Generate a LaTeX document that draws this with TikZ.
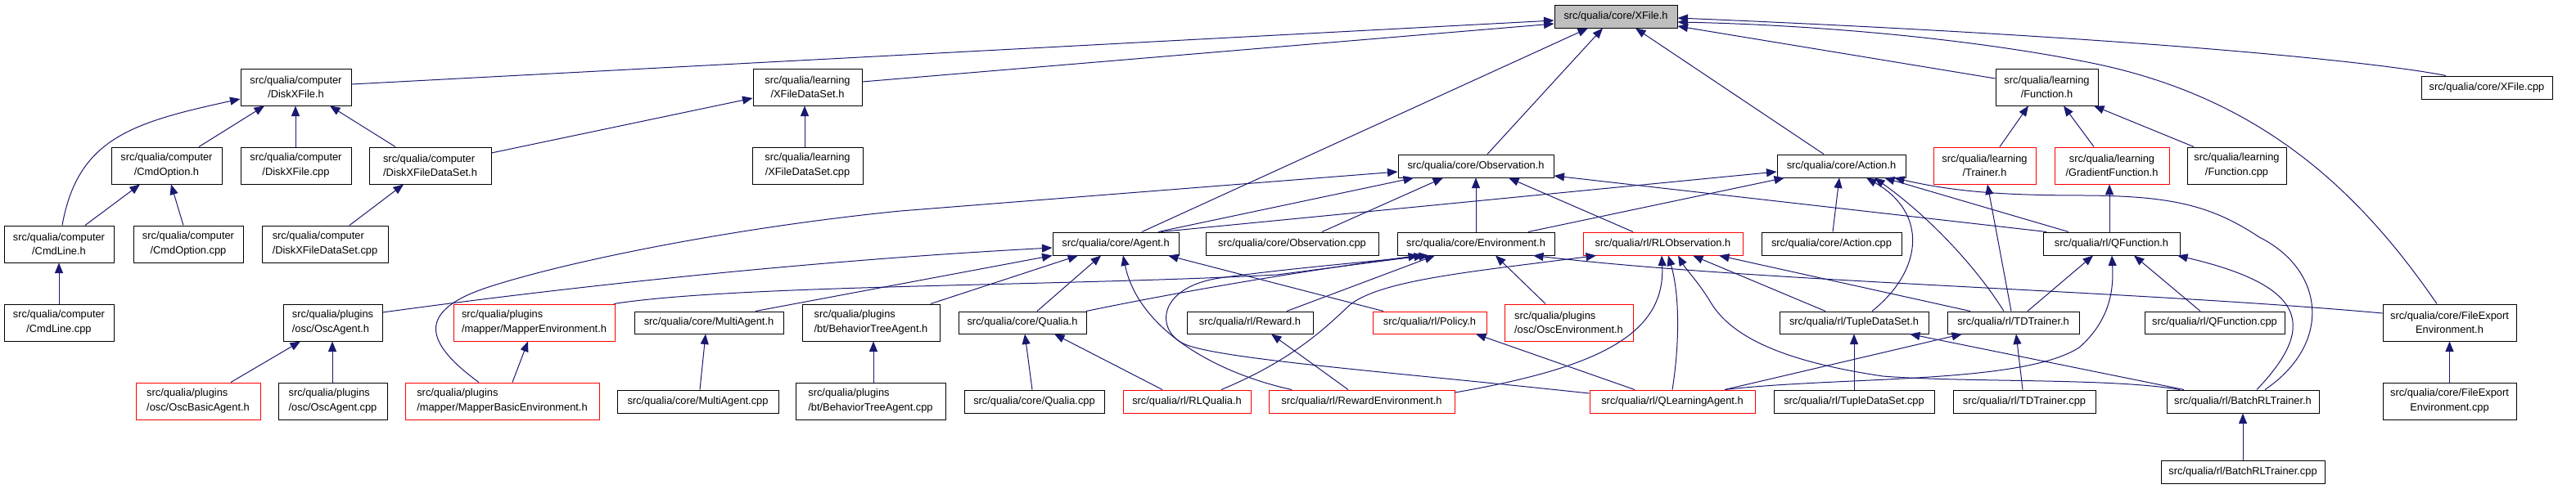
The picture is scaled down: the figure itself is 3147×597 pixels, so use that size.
\documentclass[tikz,border=0pt]{standalone}
\usepackage{fontspec}
\setmainfont{Liberation Sans}
\usetikzlibrary{arrows.meta}
\definecolor{navy}{HTML}{191970}
\definecolor{boxred}{HTML}{FF0000}
\definecolor{boxgray}{HTML}{BFBFBF}
\tikzset{
 box/.style={draw=black, fill=white, line width=1pt, inner sep=0pt, align=center, font=\fontsize{12.84}{17.7}\selectfont},
 lbox/.style={align=left},
 rbox/.style={draw=boxred},
 gbox/.style={fill=boxgray},
 dep/.style={draw=navy, line width=1pt, -{Triangle[length=12.5pt,width=10pt]}},
}
\newcommand\bx[7][]{\node[box,#1,minimum width={(#5-#3)*1pt},minimum height={(#6-#4)*1pt}] (#2) at ({(#3+#5)/2},{(#4+#6)/2}) {#7};}
\begin{document}
\begin{tikzpicture}[x=1pt,y=-1pt]
\useasboundingbox (0,0) rectangle (3147,597);
% row 0
\bx[gbox]{xfile}{1899}{6}{2049}{34}{src/qualia/core/XFile.h}
% row 1
\bx{diskxfileh}{294}{84}{429}{129}{src/qualia/computer\\/DiskXFile.h}
\bx{xfdsh}{920}{84}{1053}{129}{src/qualia/learning\\/XFileDataSet.h}
\bx{functionh}{2438}{84}{2563}{129}{src/qualia/learning\\/Function.h}
\bx{xfilecpp}{2958}{93}{3118}{121}{src/qualia/core/XFile.cpp}
% row 2
\bx{cmdopth}{136}{180}{271}{225}{src/qualia/computer\\/CmdOption.h}
\bx{diskxfilecpp}{294}{180}{429}{225}{src/qualia/computer\\/DiskXFile.cpp}
\bx[lbox]{dxfdsh}{451}{180}{600}{225}{src/qualia/computer\\/DiskXFileDataSet.h}
\bx{xfdscpp}{919}{180}{1054}{225}{src/qualia/learning\\/XFileDataSet.cpp}
\bx{obsh}{1708}{189}{1898}{217}{src/qualia/core/Observation.h}
\bx{actionh}{2171}{189}{2328}{217}{src/qualia/core/Action.h}
\bx[rbox]{trainerh}{2362}{180}{2487}{225}{src/qualia/learning\\/Trainer.h}
\bx[rbox]{gradfh}{2510}{180}{2650}{225}{src/qualia/learning\\/GradientFunction.h}
\bx{functioncpp}{2672}{180}{2793}{225}{src/qualia/learning\\/Function.cpp}
% row 3
\bx{cmdlineh}{5}{276}{139}{321}{src/qualia/computer\\/CmdLine.h}
\bx{cmdoptcpp}{163}{276}{297}{321}{src/qualia/computer\\/CmdOption.cpp}
\bx[lbox]{dxfdscpp}{320}{276}{474}{321}{src/qualia/computer\\/DiskXFileDataSet.cpp}
\bx{agenth}{1286}{284}{1440}{312}{src/qualia/core/Agent.h}
\bx{obscpp}{1473}{284}{1684}{312}{src/qualia/core/Observation.cpp}
\bx{envh}{1707}{284}{1899}{312}{src/qualia/core/Environment.h}
\bx[rbox]{rlobsh}{1934}{284}{2129}{312}{src/qualia/rl/RLObservation.h}
\bx{actioncpp}{2152}{284}{2323}{312}{src/qualia/core/Action.cpp}
\bx{qfunch}{2496}{284}{2663}{312}{src/qualia/rl/QFunction.h}
% row 4
\bx{cmdlinecpp}{5}{372}{139}{417}{src/qualia/computer\\/CmdLine.cpp}
\bx[lbox]{oscagenth}{346}{372}{467}{417}{src/qualia/plugins\\/osc/OscAgent.h}
\bx[lbox,rbox]{mapenvh}{554}{372}{751}{417}{src/qualia/plugins\\/mapper/MapperEnvironment.h}
\bx{mulagenth}{775}{381}{957}{408}{src/qualia/core/MultiAgent.h}
\bx[lbox]{btagenth}{980}{372}{1148}{417}{src/qualia/plugins\\/bt/BehaviorTreeAgent.h}
\bx{qualiah}{1171}{381}{1327}{408}{src/qualia/core/Qualia.h}
\bx{rewardh}{1450}{381}{1604}{408}{src/qualia/rl/Reward.h}
\bx[rbox]{policyh}{1677}{381}{1816}{408}{src/qualia/rl/Policy.h}
\bx[lbox,rbox]{oscenvh}{1838}{372}{1995}{417}{src/qualia/plugins\\/osc/OscEnvironment.h}
\bx{tupleh}{2174}{381}{2356}{408}{src/qualia/rl/TupleDataSet.h}
\bx{tdtrainerh}{2379}{381}{2540}{408}{src/qualia/rl/TDTrainer.h}
\bx{qfunccpp}{2620}{381}{2791}{408}{src/qualia/rl/QFunction.cpp}
\bx{fexph}{2911}{372}{3074}{417}{src/qualia/core/FileExport\\Environment.h}
% row 5
\bx[lbox,rbox]{oscbasich}{166}{468}{318}{513}{src/qualia/plugins\\/osc/OscBasicAgent.h}
\bx[lbox]{oscagentcpp}{340}{468}{473}{513}{src/qualia/plugins\\/osc/OscAgent.cpp}
\bx[lbox,rbox]{mapbasich}{495}{468}{732}{513}{src/qualia/plugins\\/mapper/MapperBasicEnvironment.h}
\bx{mulagentcpp}{754}{477}{951}{505}{src/qualia/core/MultiAgent.cpp}
\bx[lbox]{btagentcpp}{972}{468}{1155}{513}{src/qualia/plugins\\/bt/BehaviorTreeAgent.cpp}
\bx{qualiacpp}{1178}{477}{1349}{505}{src/qualia/core/Qualia.cpp}
\bx[rbox]{rlqualiah}{1372}{477}{1528}{505}{src/qualia/rl/RLQualia.h}
\bx[rbox]{rewenvh}{1550}{477}{1777}{505}{src/qualia/rl/RewardEnvironment.h}
\bx[rbox]{qlagenth}{1942}{477}{2144}{505}{src/qualia/rl/QLearningAgent.h}
\bx{tuplecpp}{2167}{477}{2363}{505}{src/qualia/rl/TupleDataSet.cpp}
\bx{tdtrainercpp}{2386}{477}{2560}{505}{src/qualia/rl/TDTrainer.cpp}
\bx{batchh}{2647}{477}{2833}{505}{src/qualia/rl/BatchRLTrainer.h}
\bx{fexpcpp}{2911}{468}{3074}{513}{src/qualia/core/FileExport\\Environment.cpp}
% row 6
\bx{batchcpp}{2640}{563}{2840}{591}{src/qualia/rl/BatchRLTrainer.cpp}

% ---- edges into XFile.h
\draw[dep] (diskxfileh.east |- 0,103) -- (xfile.west |- 0,25);
\draw[dep] (xfdsh.east |- 0,100) -- (xfile.west |- 0,29);
\draw[dep] (agenth.north -| 1395,0) -- (xfile.south -| 1940,0);
\draw[dep] (obsh.north -| 1817,0) -- (xfile.south -| 1958,0);
\draw[dep] (actionh.north -| 2228,0) -- (xfile.south -| 1998,0);
\draw[dep] (functionh.west |- 0,96) -- (xfile.east |- 0,32);
\draw[dep] (xfilecpp.north -| 2988,0) .. controls (2900,75) and (2600,45) .. (xfile.east |- 0,22);
\draw[dep] (fexph.north -| 2977,0) .. controls (2880,230) and (2760,120) .. (2560,78) .. controls (2400,45) and (2200,30) .. (xfile.east |- 0,27);
% ---- DiskXFile.h
\draw[dep] (cmdopth.north -| 243,0) -- (diskxfileh.south -| 323,0);
\draw[dep] (diskxfilecpp.north -| 361,0) -- (diskxfileh.south -| 361,0);
\draw[dep] (dxfdsh.north -| 483,0) -- (diskxfileh.south -| 403,0);
\draw[dep] (cmdlineh.north -| 76,0) .. controls (95,170) and (160,150) .. (diskxfileh.west |- 0,121);
% ---- XFileDataSet.h
\draw[dep] (dxfdsh.east |- 0,187) -- (xfdsh.west |- 0,120);
\draw[dep] (xfdscpp.north -| 983,0) -- (xfdsh.south -| 983,0);
% ---- CmdOption / CmdLine / DiskXFileDataSet
\draw[dep] (cmdlineh.north -| 104,0) -- (cmdopth.south -| 171,0);
\draw[dep] (cmdoptcpp.north -| 224,0) -- (cmdopth.south -| 209,0);
\draw[dep] (cmdlinecpp.north -| 72,0) -- (cmdlineh.south -| 72,0);
\draw[dep] (dxfdscpp.north -| 427,0) -- (dxfdsh.south -| 493,0);
% ---- Function.h
\draw[dep] (trainerh.north -| 2443,0) -- (functionh.south -| 2478,0);
\draw[dep] (gradfh.north -| 2558,0) -- (functionh.south -| 2521,0);
\draw[dep] (functioncpp.north -| 2680,0) -- (functionh.south -| 2558,0);
\draw[dep] (qfunch.north -| 2577,0) -- (gradfh.south -| 2577,0);
\draw[dep] (tdtrainerh.north -| 2457,0) -- (trainerh.south -| 2428,0);
% ---- Observation.h
\draw[dep] (mapbasich.north -| 585,0) .. controls (520,420) and (505,380) .. (600,350) .. controls (700,318) and (900,278) .. (1100,258) -- (obsh.west |- 0,210);
\draw[dep] (agenth.north -| 1415,0) -- (obsh.south -| 1727,0);
\draw[dep] (obscpp.north -| 1615,0) -- (obsh.south -| 1763,0);
\draw[dep] (envh.north -| 1803,0) -- (obsh.south -| 1803,0);
\draw[dep] (rlobsh.north -| 1995,0) -- (obsh.south -| 1843,0);
\draw[dep] (qfunch.north -| 2500,0) -- (obsh.east |- 0,215);
% ---- Action.h
\draw[dep] (agenth.north -| 1418,0) -- (actionh.west |- 0,210);
\draw[dep] (envh.north -| 1867,0) -- (actionh.south -| 2180,0);
\draw[dep] (actioncpp.north -| 2239,0) -- (actionh.south -| 2247,0);
\draw[dep] (tupleh.north -| 2287,0) .. controls (2350,330) and (2355,260) .. (actionh.south -| 2280,0);
\draw[dep] (tdtrainerh.north -| 2448,0) .. controls (2410,320) and (2350,260) .. (actionh.south -| 2290,0);
\draw[dep] (qfunch.north -| 2527,0) -- (actionh.south -| 2302,0);
\draw[dep] (batchh.north -| 2767,0) .. controls (2850,420) and (2840,330) .. (2760,290) .. controls (2700,250) and (2650,240) .. (2550,239) .. controls (2450,239) and (2390,235) .. (actionh.south -| 2314,0);
% ---- QFunction.h
\draw[dep] (tdtrainerh.north -| 2477,0) -- (qfunch.south -| 2557,0);
\draw[dep] (qfunccpp.north -| 2688,0) -- (qfunch.south -| 2607,0);
\draw[dep] (qlagenth.north -| 2107,0) .. controls (2250,460) and (2470,470) .. (2540,425) .. controls (2580,390) and (2582,350) .. (qfunch.south -| 2580,0);
\draw[dep] (batchh.north -| 2757,0) .. controls (2830,400) and (2820,350) .. (qfunch.south -| 2660,0);
% ---- RLObservation.h
\draw[dep] (rlqualiah.north -| 1492,0) .. controls (1580,440) and (1620,400) .. (1650,372) .. controls (1690,342) and (1800,332) .. (rlobsh.south -| 1950,0);
\draw[dep] (rewenvh.east |- 0,480) .. controls (1950,450) and (2035,410) .. (rlobsh.south -| 2030,0);
\draw[dep] (qlagenth.north -| 2043,0) .. controls (2052,420) and (2052,360) .. (rlobsh.south -| 2038,0);
\draw[dep] (tupleh.north -| 2230,0) -- (rlobsh.south -| 2068,0);
\draw[dep] (tdtrainerh.north -| 2407,0) -- (rlobsh.south -| 2100,0);
\draw[dep] (batchh.north -| 2663,0) .. controls (2580,462) and (2400,468) .. (2300,460) .. controls (2200,445) and (2120,420) .. (2090,370) .. controls (2075,345) and (2060,330) .. (rlobsh.south -| 2050,0);
\draw[dep] (batchh.north -| 2668,0) -- (tupleh.south -| 2333,0);
% ---- misc
\draw[dep] (rlqualiah.north -| 1420,0) -- (qualiah.south -| 1288,0);
\draw[dep] (rewenvh.north -| 1647,0) -- (rewardh.south -| 1553,0);
\draw[dep] (qlagenth.north -| 1997,0) -- (policyh.south -| 1803,0);
\draw[dep] (qlagenth.north -| 2107,0) -- (tdtrainerh.south -| 2397,0);
% ---- Environment.h
\draw[dep] (rewardh.north -| 1572,0) -- (envh.south -| 1753,0);
\draw[dep] (oscenvh.north -| 1888,0) -- (envh.south -| 1827,0);
\draw[dep] (fexph.west |- 0,383) .. controls (2600,355) and (2150,345) .. (envh.south -| 1873,0);
\draw[dep] (qualiah.north -| 1327,0) .. controls (1450,355) and (1600,330) .. (envh.south -| 1733,0);
\draw[dep] (mapenvh.north -| 750,0) .. controls (900,348) and (1300,350) .. (1560,336) -- (envh.south -| 1740,0);
\draw[dep] (qlagenth.west |- 0,481) .. controls (1700,455) and (1500,440) .. (1450,422) .. controls (1412,408) and (1410,352) .. (1490,340) .. controls (1560,330) and (1650,322) .. (envh.south -| 1746,0);
% ---- Agent.h
\draw[dep] (oscagenth.east |- 0,382) .. controls (700,350) and (1000,318) .. (agenth.west |- 0,303);
\draw[dep] (mulagenth.north -| 923,0) -- (agenth.south west);
\draw[dep] (btagenth.north -| 1137,0) -- (agenth.south -| 1317,0);
\draw[dep] (qualiah.north -| 1267,0) -- (agenth.south -| 1345,0);
\draw[dep] (rewenvh.north -| 1578,0) .. controls (1480,455) and (1390,400) .. (agenth.south -| 1372,0);
\draw[dep] (policyh.north -| 1690,0) -- (agenth.south -| 1427,0);
% ---- leaves
\draw[dep] (tuplecpp.north -| 2265,0) -- (tupleh.south -| 2265,0);
\draw[dep] (tdtrainercpp.north -| 2471,0) -- (tdtrainerh.south -| 2463,0);
\draw[dep] (batchcpp.north -| 2740,0) -- (batchh.south -| 2740,0);
\draw[dep] (fexpcpp.north) -- (fexph.south);
\draw[dep] (mulagentcpp.north -| 855,0) -- (mulagenth.south -| 862,0);
\draw[dep] (btagentcpp.north -| 1067,0) -- (btagenth.south -| 1067,0);
\draw[dep] (qualiacpp.north -| 1261,0) -- (qualiah.south -| 1252,0);
\draw[dep] (oscbasich.north -| 282,0) -- (oscagenth.south -| 367,0);
\draw[dep] (oscagentcpp.north -| 406,0) -- (oscagenth.south -| 406,0);
\draw[dep] (mapbasich.north -| 626,0) -- (mapenvh.south -| 645,0);
\end{tikzpicture}
\end{document}
